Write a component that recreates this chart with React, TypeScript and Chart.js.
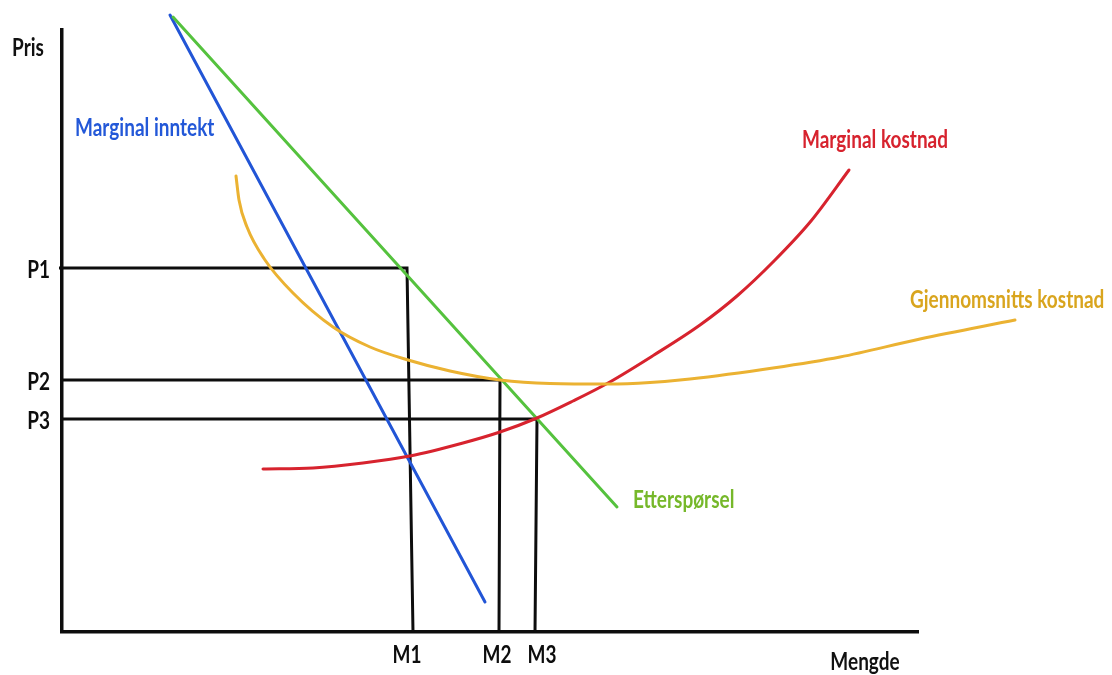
import React, { useEffect, useRef } from "react";
import { Chart, registerables } from "chart.js";

Chart.register(...registerables);

// ---- axis levels (chart units) ----
const priceTickValues = [36.4, 25.2, 21.3];
const priceTickLabels = ["P1", "P2", "P3"];
const quantityTickValues = [34.5, 43.5, 48.0];
const quantityTickLabels = ["M1", "M2", "M3"];

// guide lines: from y axis to curve, then down to x axis
const guideStartX = [-0.3, 0, 0];
const guideCornerX = [34.5, 43.8, 47.5];
const guideFootX = [35.1, 43.7, 47.3];

// ---- curves ----
const demandX = [11.1, 55.5];
const demandY = [61.5, 12.5];

const marginalRevenueX = [10.8, 42.3];
const marginalRevenueY = [61.7, 3.0];

const marginalCostX = [20.1, 25.1, 30.1, 34.8, 40.1, 43.8, 47.5, 51.1, 54.6, 59.2, 63.8, 67.5, 71.2, 74.9, 78.7];
const marginalCostY = [16.3, 16.4, 16.9, 17.6, 18.9, 20.0, 21.4, 23.1, 24.9, 27.7, 30.7, 33.6, 37.1, 41.1, 46.2];

const averageCostX = [17.4, 17.7, 18.5, 20.3, 23.1, 27.1, 30.8, 34.6, 38.8, 43.8, 48.8, 54.6, 58.8, 62.8, 71.1, 77.8, 85.8, 95.3];
const averageCostY = [45.6, 43.2, 40.5, 37.2, 33.9, 30.5, 28.5, 27.2, 26.1, 25.2, 24.85, 24.8, 24.95, 25.3, 26.4, 27.5, 29.3, 31.2];

// ---- text labels ----
const labelTexts = ["Pris", "Mengde", "Marginal inntekt", "Marginal kostnad", "Gjennomsnitts kostnad", "Etterspørsel"];
const labelX = [-3.4, 80.3, 1.3, 74.0, 84.8, 57.1];
const labelY = [58.4, -3.0, 50.4, 49.2, 33.2, 13.2];
const labelAlign = ["center", "center", "left", "left", "left", "left"];
const labelColors = ["#111111", "#111111", "#2358d8", "#d7232e", "#d9a51e", "#76b82a"];

const X_MIN = 0;
const X_MAX = 85.6;
const Y_MIN = 0;
const Y_MAX = 60.2;

const FONT_FAMILY = "Lato, 'Open Sans', sans-serif";
const FONT_SIZE = 25;
const CONDENSE = 0.76;

const BLACK = "#0d0d0d";

function zip(xs: number[], ys: number[]) {
  return xs.map((x, i) => ({ x, y: ys[i] }));
}

function drawText(
  ctx: CanvasRenderingContext2D,
  text: string,
  px: number,
  py: number,
  color: string,
  align: string
) {
  ctx.save();
  ctx.font = `bold ${FONT_SIZE}px ${FONT_FAMILY}`;
  ctx.fillStyle = color;
  ctx.textBaseline = "middle";
  ctx.textAlign = "left";
  const w = ctx.measureText(text).width * CONDENSE;
  const left = align === "left" ? px : align === "right" ? px - w : px - w / 2;
  ctx.translate(left, py);
  ctx.scale(CONDENSE, 1);
  ctx.fillText(text, 0, 0);
  ctx.restore();
}

const textPlugin = {
  id: "economicsText",
  afterDraw(chart: any) {
    const ctx = chart.ctx as CanvasRenderingContext2D;
    const xs = chart.scales.x;
    const ys = chart.scales.y;
    ys.ticks.forEach((t: any, i: number) => {
      drawText(ctx, priceTickLabels[i], ys.right - 12, ys.getPixelForValue(t.value) + 2, BLACK, "right");
    });
    xs.ticks.forEach((t: any, i: number) => {
      drawText(ctx, quantityTickLabels[i], xs.getPixelForValue(t.value), xs.top + 23, BLACK, "center");
    });
    labelTexts.forEach((txt, i) => {
      drawText(ctx, txt, xs.getPixelForValue(labelX[i]), ys.getPixelForValue(labelY[i]), labelColors[i], labelAlign[i]);
    });
  },
};

export default function App() {
  const canvasRef = useRef<HTMLCanvasElement | null>(null);

  useEffect(() => {
    if (!canvasRef.current) return;

    const guideSets = priceTickValues.map((p, i) => ({
      label: `guide ${priceTickLabels[i]}`,
      data: [
        { x: guideStartX[i], y: p },
        { x: guideCornerX[i], y: p },
        { x: guideFootX[i], y: 0 },
      ],
      borderColor: BLACK,
      borderWidth: 3,
      showLine: true,
      pointRadius: 0,
      tension: 0,
      clip: false as any,
      borderJoinStyle: "miter" as const,
      order: 10,
    }));

    const curve = (label: string, xs: number[], ys: number[], color: string, smooth: boolean) => ({
      label,
      data: zip(xs, ys),
      borderColor: color,
      borderWidth: 3,
      showLine: true,
      pointRadius: 0,
      tension: smooth ? 0.4 : 0,
      cubicInterpolationMode: smooth ? ("monotone" as const) : ("default" as const),
      clip: false as any,
      borderCapStyle: "round" as const,
      order: 1,
    });

    const chart = new Chart(canvasRef.current, {
      type: "scatter",
      data: {
        datasets: [
          ...guideSets,
          curve("Gjennomsnitts kostnad", averageCostX, averageCostY, "#ebb232", true),
          curve("Marginal kostnad", marginalCostX, marginalCostY, "#d7232e", true),
          curve("Etterspørsel", demandX, demandY, "#55c23e", false),
          curve("Marginal inntekt", marginalRevenueX, marginalRevenueY, "#2255d6", false),
        ],
      },
      options: {
        animation: false,
        responsive: false,
        maintainAspectRatio: false,
        layout: { padding: { top: 30, right: 194, left: 0, bottom: 0 } },
        plugins: {
          legend: { display: false },
          tooltip: { enabled: false },
          title: { display: false },
        },
        scales: {
          x: {
            type: "linear",
            bounds: "data",
            grid: { display: false },
            border: { display: true, color: BLACK, width: 3.5 },
            ticks: { display: false },
            // range fixed here (not via min/max) so curves running past the axis end are still drawn
            afterDataLimits: (scale: any) => {
              scale.min = X_MIN;
              scale.max = X_MAX;
            },
            afterBuildTicks: (scale: any) => {
              scale.ticks = quantityTickValues.map((v) => ({ value: v }));
            },
            afterFit: (scale: any) => {
              scale.height = 43;
            },
          },
          y: {
            type: "linear",
            bounds: "data",
            grid: { display: false },
            border: { display: true, color: BLACK, width: 3.5 },
            ticks: { display: false },
            afterDataLimits: (scale: any) => {
              scale.min = Y_MIN;
              scale.max = Y_MAX;
            },
            afterBuildTicks: (scale: any) => {
              scale.ticks = priceTickValues.map((v) => ({ value: v }));
            },
            afterFit: (scale: any) => {
              scale.width = 62;
            },
          },
        },
      },
      plugins: [textPlugin],
    });

    return () => chart.destroy();
  }, []);

  return (
    <div style={{ position: "absolute", left: 0, top: 0, width: 1112, height: 675, background: "#ffffff" }}>
      <canvas ref={canvasRef} width={1112} height={675} style={{ display: "block" }} />
    </div>
  );
}
